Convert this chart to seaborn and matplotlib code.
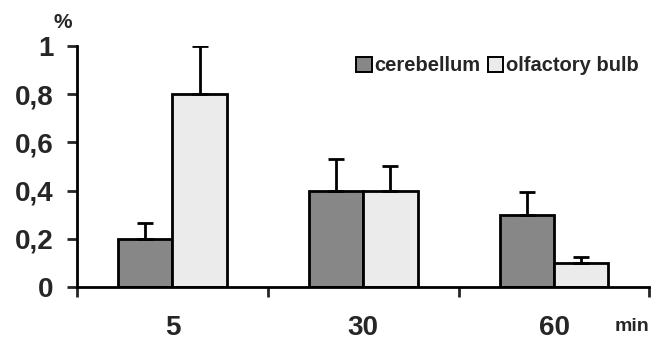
import numpy as np
import pandas as pd
import matplotlib.pyplot as plt
import seaborn as sns

# data
times = ["5", "30", "60"]
regions = ["cerebellum", "olfactory bulb"]
cerebellum = [0.2, 0.4, 0.3]
olfactory = [0.8, 0.4, 0.1]
cerebellum_err = [0.065, 0.13, 0.095]
olfactory_err = [0.2, 0.1, 0.025]

df = pd.DataFrame({
    "time": times * 2,
    "region": [regions[0]] * 3 + [regions[1]] * 3,
    "value": cerebellum + olfactory,
})

sns.set_style("white")
plt.rcParams['font.family'] = ['Liberation Sans', 'DejaVu Sans']
plt.rcParams['font.weight'] = 'bold'

fig = plt.figure(figsize=(6.55, 3.40), dpi=100)
ax = fig.add_axes([0.1176, 0.156, 0.874, 0.709])

lw = 2.0
sns.barplot(data=df, x="time", y="value", hue="region", order=times,
            hue_order=regions, palette=["#878787", "#ebebeb"],
            width=0.57, errorbar=None, edgecolor="black", linewidth=lw,
            ax=ax)

# error bars (upper only)
errs = {regions[0]: cerebellum_err, regions[1]: olfactory_err}
for cont, reg in zip(ax.containers, regions):
    for bar, e in zip(cont, errs[reg]):
        xc = bar.get_x() + bar.get_width() / 2
        h = bar.get_height()
        ax.errorbar(xc, h, yerr=[[0], [e]], fmt="none", ecolor="black",
                    elinewidth=lw, capsize=5.5, capthick=lw)

ax.set_ylim(0, 1)
ax.set_xlim(-0.5, 2.5)
ax.set_yticks([0, 0.2, 0.4, 0.6, 0.8, 1])
ax.set_yticklabels(["0", "0,2", "0,4", "0,6", "0,8", "1"],
                   fontsize=20, fontweight="bold")
ax.set_xticks([-0.5, 0.5, 1.5, 2.5])
ax.set_xticklabels([])
ax.set_xticks([0, 1, 2], minor=True)
ax.set_xticklabels(times, minor=True, fontsize=20, fontweight="bold")
ax.tick_params(axis="x", which="major", direction="out", length=7,
               width=lw, bottom=True)
ax.tick_params(axis="x", which="minor", length=0, pad=20)
ax.tick_params(axis="y", direction="out", length=7, width=lw, left=True,
               pad=10)
ax.set_xlabel("")
ax.set_ylabel("")

for side in ["top", "right"]:
    ax.spines[side].set_visible(False)
for side in ["left", "bottom"]:
    ax.spines[side].set_color("black")
    ax.spines[side].set_linewidth(lw)

leg = ax.legend(loc="upper right", bbox_to_anchor=(0.995, 0.99), frameon=False,
                ncol=2, prop={"size": 14.5, "weight": "bold"},
                handlelength=0.75, handleheight=0.75, handletextpad=0.15,
                columnspacing=0.35, borderaxespad=0)
for h in leg.legend_handles:
    h.set_linewidth(1.4)

fig.text(0.096, 0.935, "%", fontsize=15, fontweight="bold", ha="center", va="center")
fig.text(0.965, 0.04, "min", fontsize=14, fontweight="bold", ha="center", va="center")

fig.savefig("out.png", dpi=100)
